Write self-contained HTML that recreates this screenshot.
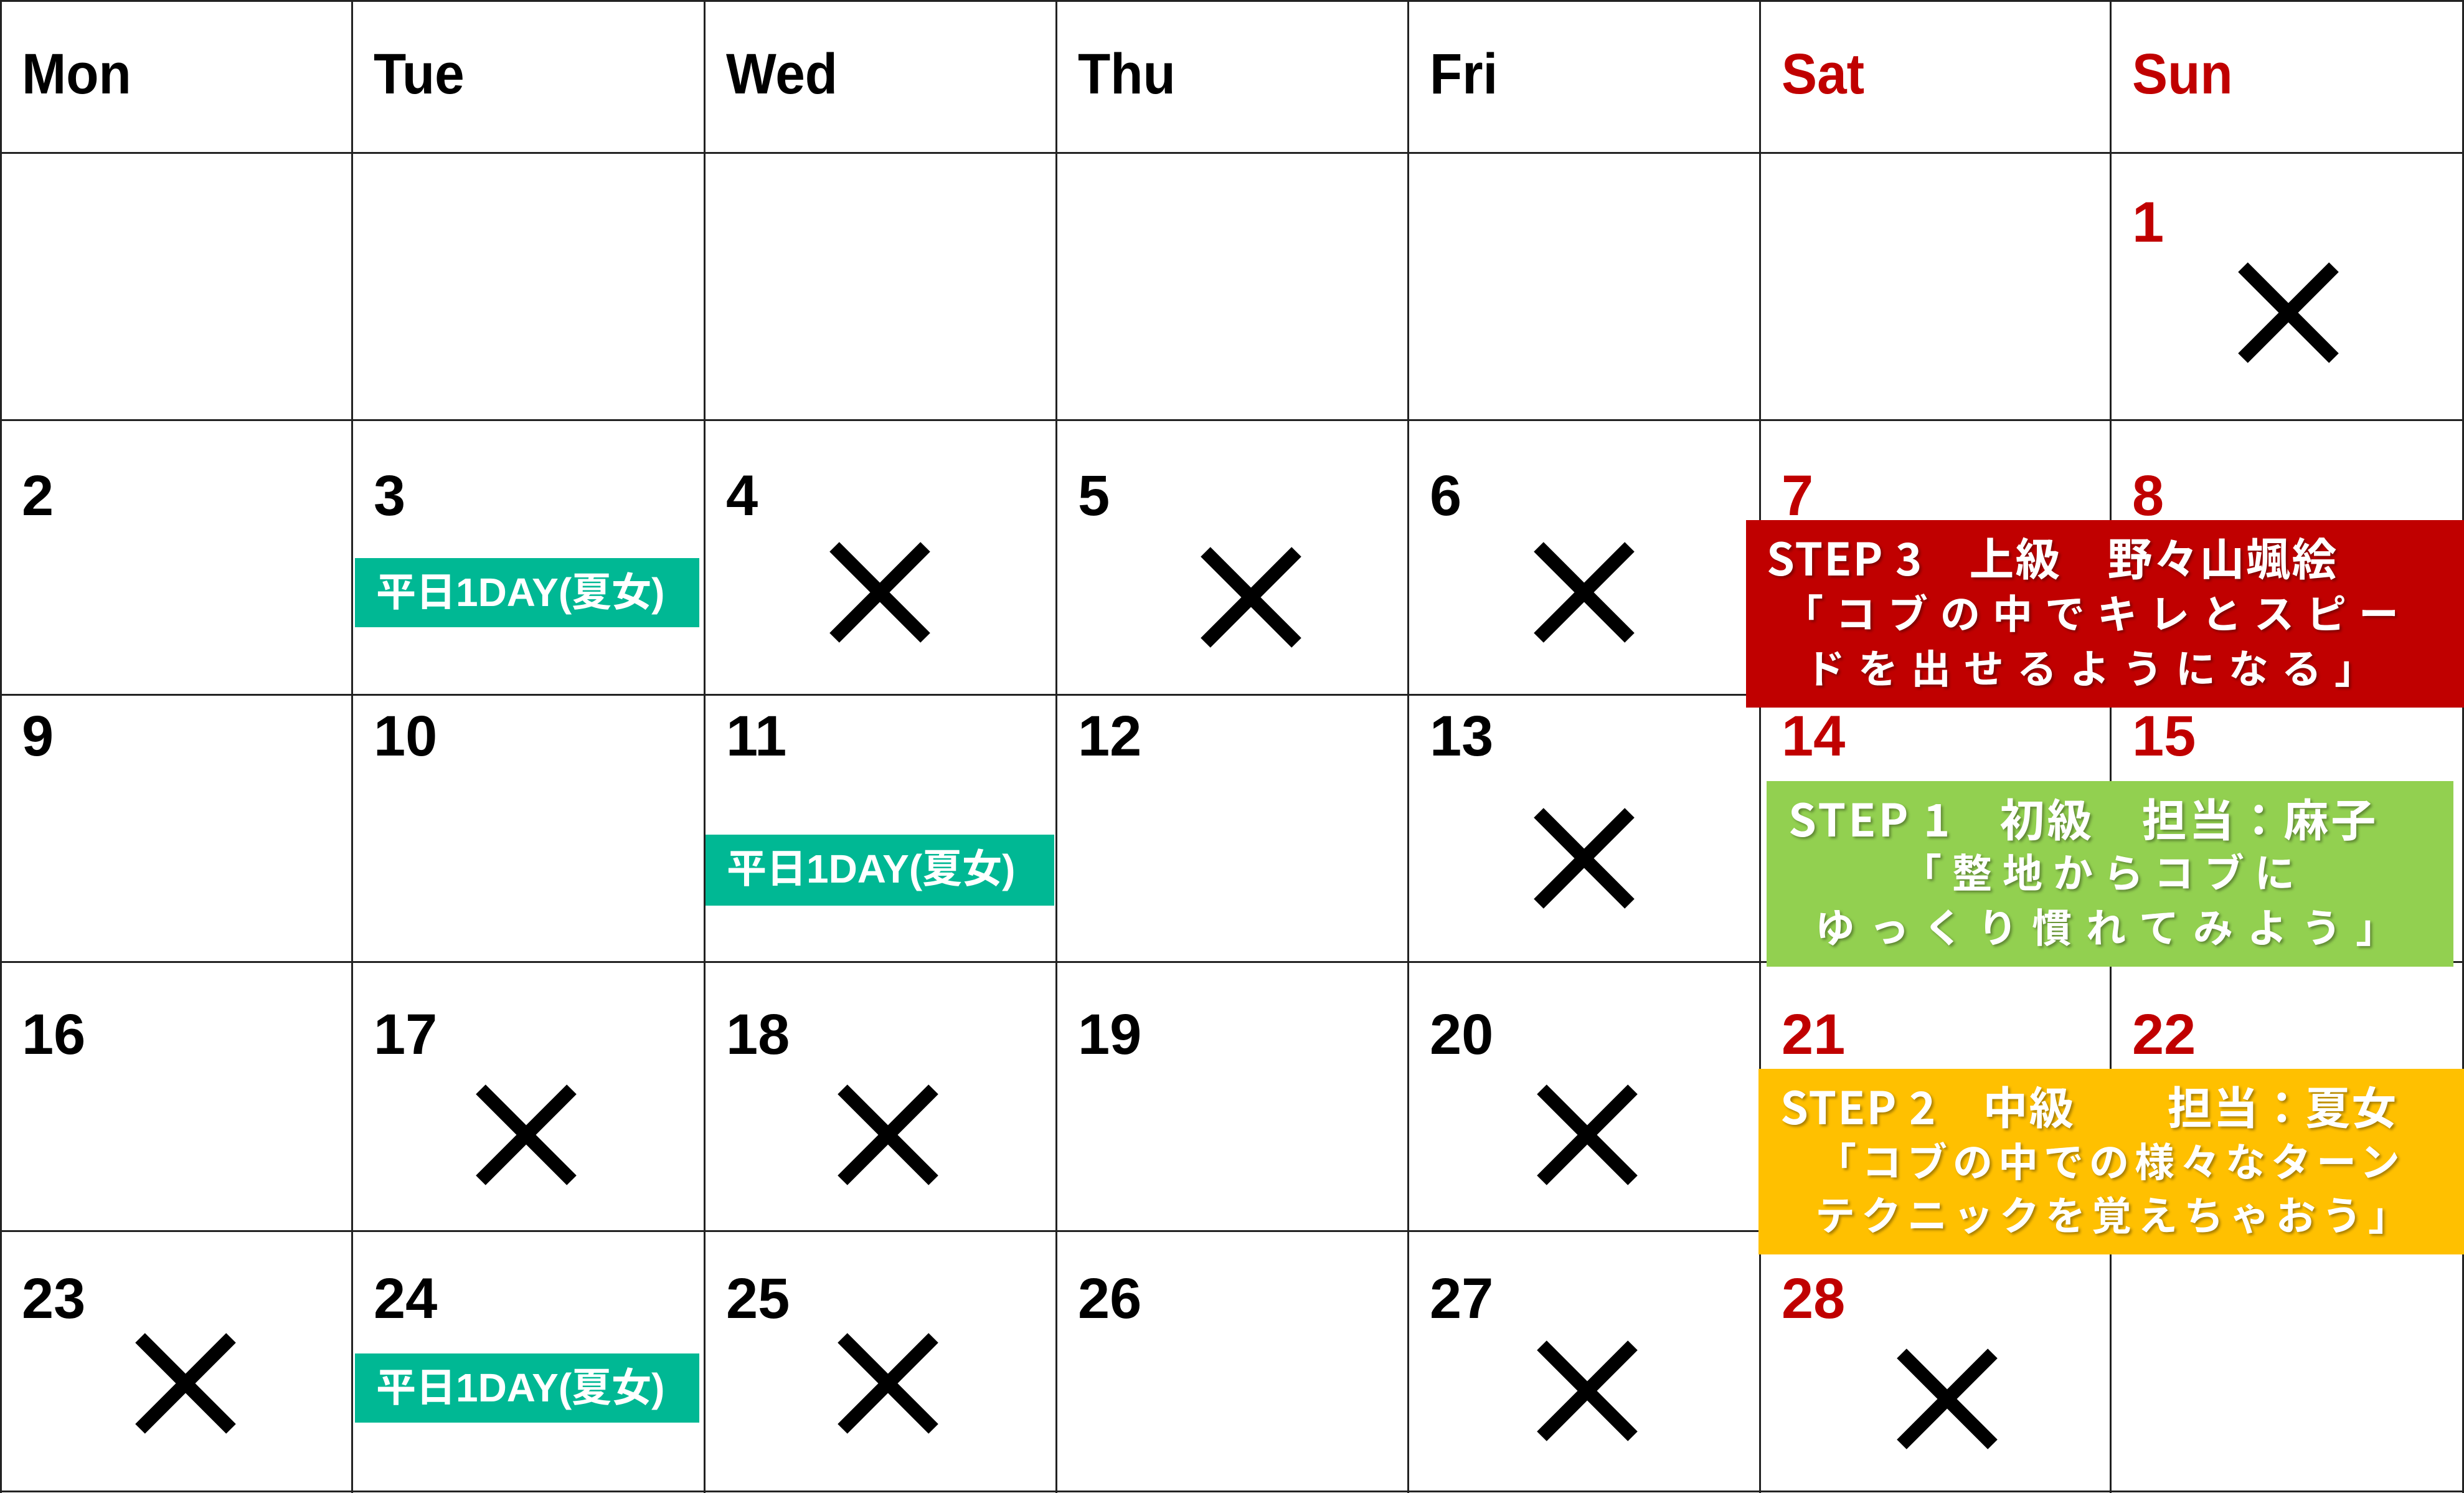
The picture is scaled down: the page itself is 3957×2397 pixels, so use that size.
<!DOCTYPE html>
<html><head><meta charset="utf-8"><style>
body{margin:0;width:3957px;height:2397px;background:#fff;position:relative;overflow:hidden;font-family:"Liberation Sans","Noto Sans CJK JP",sans-serif}
.v{position:absolute;top:0;height:2397px;width:3px;background:#222}
.h{position:absolute;left:0;width:3957px;height:3px;background:#222}
.t{position:absolute;font-weight:bold;font-size:92px;line-height:110px;white-space:nowrap;color:#000}
.hd{transform:scaleX(0.93);transform-origin:left}
.r{color:#C00000}
.box{position:absolute}
.bt{position:absolute;color:#fff;font-family:"Noto Sans CJK JP",sans-serif;font-weight:bold;font-size:64px;line-height:88px;white-space:nowrap;text-shadow:3px 3px 4px rgba(0,0,0,0.35)}
.l1{font-size:72px;letter-spacing:2px}
.tl{position:absolute;background:#00B894;color:#fff;font-family:"Liberation Sans","Noto Sans CJK JP",sans-serif;font-weight:bold;font-size:64px;line-height:111px;padding-left:34px;box-sizing:border-box;white-space:nowrap}
</style></head><body>
<div class="v" style="left:0"></div><div class="v" style="left:564px"></div><div class="v" style="left:1130px"></div><div class="v" style="left:1695px"></div><div class="v" style="left:2260px"></div><div class="v" style="left:2825px"></div><div class="v" style="left:3388px"></div><div class="v" style="left:3954px"></div>
<div class="h" style="top:0"></div><div class="h" style="top:244px"></div><div class="h" style="top:673px"></div><div class="h" style="top:1114px"></div><div class="h" style="top:1543px"></div><div class="h" style="top:1975px"></div><div class="h" style="top:2393px"></div>

<div class="t hd" style="left:35px;top:64px">Mon</div>
<div class="t hd" style="left:600px;top:64px">Tue</div>
<div class="t hd" style="left:1166px;top:64px">Wed</div>
<div class="t hd" style="left:1731px;top:64px">Thu</div>
<div class="t hd" style="left:2296px;top:64px">Fri</div>
<div class="t r hd" style="left:2861px;top:64px">Sat</div>
<div class="t r hd" style="left:3424px;top:64px">Sun</div>

<div class="t r" style="left:3424px;top:302px">1</div>
<div class="t" style="left:35px;top:741px">2</div><div class="t" style="left:600px;top:741px">3</div><div class="t" style="left:1166px;top:741px">4</div><div class="t" style="left:1731px;top:741px">5</div><div class="t" style="left:2296px;top:741px">6</div><div class="t r" style="left:2861px;top:741px">7</div><div class="t r" style="left:3424px;top:741px">8</div>
<div class="t" style="left:35px;top:1127px">9</div><div class="t" style="left:600px;top:1127px">10</div><div class="t" style="left:1166px;top:1127px">11</div><div class="t" style="left:1731px;top:1127px">12</div><div class="t" style="left:2296px;top:1127px">13</div><div class="t r" style="left:2861px;top:1127px">14</div><div class="t r" style="left:3424px;top:1127px">15</div>
<div class="t" style="left:35px;top:1606px">16</div><div class="t" style="left:600px;top:1606px">17</div><div class="t" style="left:1166px;top:1606px">18</div><div class="t" style="left:1731px;top:1606px">19</div><div class="t" style="left:2296px;top:1606px">20</div><div class="t r" style="left:2861px;top:1606px">21</div><div class="t r" style="left:3424px;top:1606px">22</div>
<div class="t" style="left:35px;top:2030px">23</div><div class="t" style="left:600px;top:2030px">24</div><div class="t" style="left:1166px;top:2030px">25</div><div class="t" style="left:1731px;top:2030px">26</div><div class="t" style="left:2296px;top:2030px">27</div><div class="t r" style="left:2861px;top:2030px">28</div>

<svg width="3957" height="2397" style="position:absolute;left:0;top:0" stroke="#000" stroke-width="22">
<path d="M3602 429l146 146M3748 429l-146 146"/>
<path d="M1340 878l146 146M1486 878l-146 146"/>
<path d="M1936 886l146 146M2082 886l-146 146"/>
<path d="M2471 878l146 146M2617 878l-146 146"/>
<path d="M2471 1305l146 146M2617 1305l-146 146"/>
<path d="M772 1749l146 146M918 1749l-146 146"/>
<path d="M1353 1749l146 146M1499 1749l-146 146"/>
<path d="M2476 1749l146 146M2622 1749l-146 146"/>
<path d="M225 2148l146 146M371 2148l-146 146"/>
<path d="M1353 2148l146 146M1499 2148l-146 146"/>
<path d="M2476 2160l146 146M2622 2160l-146 146"/>
<path d="M3054 2173l146 146M3200 2173l-146 146"/>
</svg>

<div class="tl" style="left:570px;top:896px;width:553px;height:111px">平日1DAY(夏女)</div>
<div class="tl" style="left:1133px;top:1340px;width:560px;height:114px">平日1DAY(夏女)</div>
<div class="tl" style="left:570px;top:2173px;width:553px;height:111px">平日1DAY(夏女)</div>

<div class="box" style="left:2804px;top:835px;width:1153px;height:301px;background:#C00000"></div>
<div class="bt l1" style="left:2837px;top:849px">STEP 3　上級　野々山颯絵</div>
<div class="bt" style="left:2864px;top:938px;letter-spacing:20px">「コブの中でキレとスピー</div>
<div class="bt" style="left:2899px;top:1026px;letter-spacing:21px">ドを出せるようになる」</div>

<div class="box" style="left:2837px;top:1254px;width:1103px;height:298px;background:#92D050"></div>
<div class="bt l1" style="left:2872px;top:1268px;letter-spacing:4px">STEP 1　初級　担当：麻子</div>
<div class="bt" style="left:3054px;top:1354px;letter-spacing:17px">「整地からコブに</div>
<div class="bt" style="left:2915px;top:1442px;letter-spacing:23px">ゆっくり慣れてみよう」</div>

<div class="box" style="left:2824px;top:1716px;width:1133px;height:298px;background:#FFC000"></div>
<div class="bt l1" style="left:2859px;top:1730px">STEP 2　中級　　担当：夏女</div>
<div class="bt" style="left:2917px;top:1818px;letter-spacing:9px">「コブの中での様々なターン</div>
<div class="bt" style="left:2915px;top:1904px;letter-spacing:10px">テクニックを覚えちゃおう」</div>
</body></html>
